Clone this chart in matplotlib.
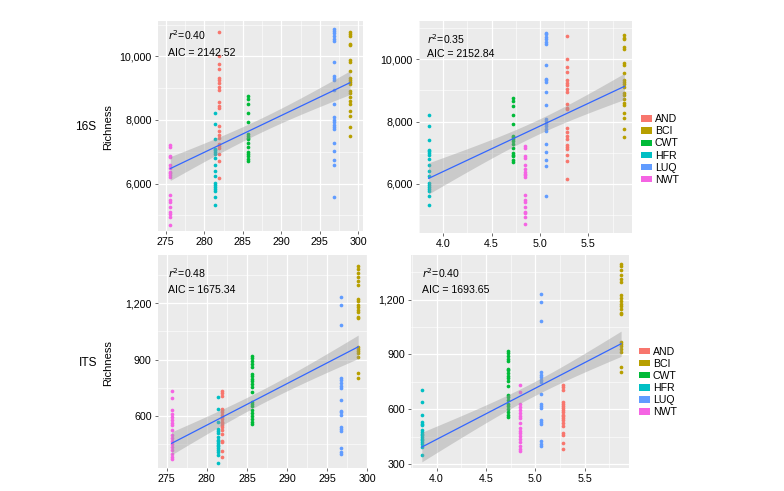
import numpy as np
import matplotlib
matplotlib.use('Agg')
import matplotlib.pyplot as plt
from matplotlib.ticker import FuncFormatter, MultipleLocator
from matplotlib.patches import Patch

plt.rcParams['font.family'] = ['Liberation Sans', 'DejaVu Sans']

sites = ['AND', 'BCI', 'CWT', 'HFR', 'LUQ', 'NWT']
colors = ['#F8766D', '#B79F00', '#00BA38', '#00BFC4', '#619CFF', '#F564E3']

# site level predictors
temp = {'AND': 281.9, 'BCI': 298.9, 'CWT': 285.7, 'HFR': 281.4, 'LUQ': 296.8, 'NWT': 275.6}
xright = {'AND': 5.28, 'BCI': 5.87, 'CWT': 4.72, 'HFR': 3.85, 'LUQ': 5.06, 'NWT': 4.84}

# 16S richness per site
rich16 = {
    'AND': [10753, 10000, 9753, 9592, 9323, 9247, 9162, 9032, 8946, 8549, 8441, 8388,
            7796, 7667, 7527, 7442, 7237, 7183, 7130, 6936, 6721, 6162],
    'BCI': [10774, 10699, 10645, 10398, 10344, 9871, 9807, 9549, 9323, 9269, 9194, 9118,
            8925, 8839, 8731, 8581, 8516, 8280, 8119, 7764, 7495],
    'CWT': [8742, 8667, 8495, 8226, 7936, 7549, 7495, 7442, 7388, 7280, 7151, 6990,
            6936, 6882, 6775, 6700],
    'HFR': [8205, 7861, 7409, 7097, 7044, 6990, 6936, 6797, 6592, 6399, 6238, 6022,
            5969, 5893, 5829, 5754, 5593, 5324],
    'LUQ': [10860, 10806, 10731, 10645, 10559, 10484, 9807, 9377, 9323, 9269, 8946, 8516,
            8087, 8011, 7936, 7850, 7764, 7710, 7280, 7011, 6754, 6581, 5593],
    'NWT': [7226, 7151, 6882, 6829, 6592, 6485, 6377, 6323, 6270, 6216, 5646, 5485,
            5431, 5270, 5109, 5055, 4947, 4711],
}

# ITS richness per site
richits = {
    'AND': [734, 720, 707, 639, 630, 619, 607, 594, 583, 570, 561, 552, 543, 524, 506,
            470, 460, 415, 384],
    'BCI': [1397, 1383, 1361, 1337, 1315, 1297, 1224, 1209, 1191, 1178, 1163, 1151, 1127,
            1121, 968, 957, 944, 932, 913, 829, 804],
    'CWT': [921, 908, 893, 875, 862, 822, 813, 798, 784, 771, 753, 729, 676, 665, 652,
            630, 616, 601, 585, 570, 557],
    'HFR': [703, 639, 566, 530, 521, 512, 488, 475, 466, 457, 448, 439, 429, 420, 411,
            393, 351],
    'LUQ': [1231, 1187, 1081, 802, 789, 775, 762, 749, 683, 628, 619, 607, 543, 530, 519,
            428, 409, 397],
    'NWT': [731, 694, 630, 612, 597, 579, 565, 552, 524, 497, 482, 470, 451, 437, 420,
            400, 384, 373],
}

stats = [['0.40', '2142.52'], ['0.35', '2152.84'], ['0.48', '1675.34'], ['0.40', '1693.65']]

W, H = 784, 491
fig = plt.figure(figsize=(W / 100, H / 100), dpi=100)


def box(x0, y0, x1, y1):
    return [x0 / W, 1 - y1 / H, (x1 - x0) / W, (y1 - y0) / H]


boxes = [box(158, 21, 363, 231), box(419, 21, 632, 233),
         box(158, 255, 367, 468), box(411, 255, 629, 468)]
xlims = [(274.0, 300.6), (3.75, 5.95), (273.9, 300.0), (3.74, 5.95)]
ylims = [(4510, 11110), (4420, 11230), (324, 1455), (278, 1445)]
xstep = [5, 0.5, 5, 0.5]
ystep = [2000, 2000, 300, 300]
textpos = [(0.049, 0.933, 0.85), (0.038, 0.915, 0.845), (0.049, 0.915, 0.836),
           (0.05, 0.915, 0.836)]
legpos = {1: (641, 149.5), 3: (639, 382)}

for k in range(4):
    ax = fig.add_axes(boxes[k])
    xs = temp if k % 2 == 0 else xright
    ys = rich16 if k < 2 else richits
    allx, ally = [], []
    for s, c in zip(sites, colors):
        xv = np.full(len(ys[s]), xs[s])
        ax.scatter(xv, ys[s], s=7, color=c, linewidths=0, zorder=3)
        allx.extend(xv)
        ally.extend(ys[s])
    allx = np.array(allx)
    ally = np.array(ally)
    b, a = np.polyfit(allx, ally, 1)
    n = len(allx)
    resid = ally - (a + b * allx)
    sres = np.sqrt(np.sum(resid ** 2) / (n - 2))
    sxx = np.sum((allx - allx.mean()) ** 2)
    gx = np.linspace(allx.min(), allx.max(), 80)
    gy = a + b * gx
    se = sres * np.sqrt(1 / n + (gx - allx.mean()) ** 2 / sxx)
    ax.fill_between(gx, gy - 1.98 * se, gy + 1.98 * se, color='#999999', alpha=0.4,
                    linewidth=0, zorder=4)
    ax.plot(gx, gy, color='#3366FF', lw=0.9, zorder=5)

    ax.set_xlim(*xlims[k])
    ax.set_ylim(*ylims[k])
    ax.set_facecolor('#EBEBEB')
    ax.xaxis.set_major_locator(MultipleLocator(xstep[k]))
    ax.xaxis.set_minor_locator(MultipleLocator(xstep[k] / 2))
    ax.yaxis.set_major_locator(MultipleLocator(ystep[k]))
    ax.yaxis.set_minor_locator(MultipleLocator(ystep[k] / 2))
    ax.grid(which='major', color='white', lw=0.9, zorder=0)
    ax.grid(which='minor', color='white', lw=0.4, zorder=0)
    ax.set_axisbelow(True)
    for sp in ax.spines.values():
        sp.set_visible(False)
    ax.tick_params(which='major', length=2.5, width=0.5, color='#333333',
                   labelsize=7.7, labelcolor='black', pad=2)
    ax.tick_params(which='minor', length=0)
    if k % 2 == 0:
        ax.xaxis.set_major_formatter(FuncFormatter(lambda v, p: f'{v:.0f}'))
    else:
        ax.xaxis.set_major_formatter(FuncFormatter(lambda v, p: f'{v:.1f}'))
    ax.yaxis.set_major_formatter(FuncFormatter(lambda v, p: f'{v:,.0f}'))

    tx, ty1, ty2 = textpos[k]
    ax.text(tx, ty1, f'$r^2$=' + stats[k][0], transform=ax.transAxes, fontsize=7.6,
            va='center', ha='left')
    ax.text(tx, ty2, 'AIC = ' + stats[k][1], transform=ax.transAxes, fontsize=7.6,
            va='center', ha='left')

    if k % 2 == 0:
        fig.text(108 / W, 1 - (127 if k == 0 else 363) / H, 'Richness', rotation=90,
                 fontsize=8, ha='center', va='center')
    else:
        lx, ly = legpos[k]
        handles = [Patch(facecolor=c, edgecolor='none', label=s) for s, c in zip(sites, colors)]
        fig.legend(handles=handles, loc='center left', bbox_to_anchor=(lx / W, 1 - ly / H),
                   frameon=False, fontsize=7.6, handlelength=1.0, handleheight=0.55,
                   handletextpad=0.3, labelspacing=0.2, borderaxespad=0, borderpad=0)

fig.text(86 / W, 1 - 127 / H, '16S', fontsize=8.6, ha='center', va='center')
fig.text(88 / W, 1 - 363 / H, 'ITS', fontsize=8.6, ha='center', va='center')

fig.savefig('out.png', dpi=100, facecolor='white')
